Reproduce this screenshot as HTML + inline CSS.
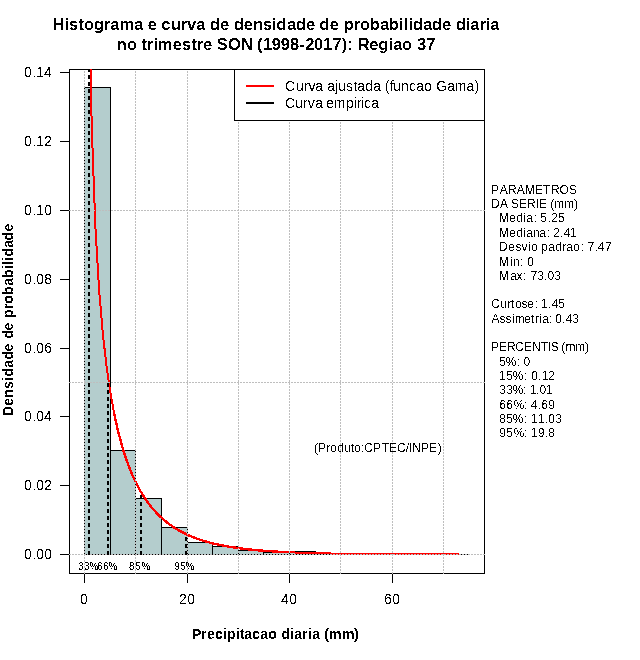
<!DOCTYPE html>
<html lang="pt"><head><meta charset="utf-8"><title>Histograma e curva de densidade de probabilidade diaria</title>
<style>html,body{margin:0;padding:0;background:#fff;}svg{display:block;}text{font-family:'Liberation Sans', Arial, Helvetica, sans-serif;fill:#000;}</style>
</head><body>
<svg width="640" height="660" viewBox="0 0 640 660">
<defs><clipPath id="pc"><rect x="69" y="69" width="416" height="505"/></clipPath><filter id="bw" x="0" y="0" width="640" height="660" filterUnits="userSpaceOnUse" color-interpolation-filters="sRGB"><feComponentTransfer><feFuncA type="discrete" tableValues="0 1"/></feComponentTransfer></filter></defs>
<rect x="0" y="0" width="640" height="660" fill="#fff"/>
<g shape-rendering="crispEdges" stroke="#000" stroke-width="1" fill="none">
<rect x="69.5" y="69.5" width="415" height="504"/>
<line x1="60" y1="554.5" x2="69" y2="554.5"/>
<line x1="60" y1="485.5" x2="69" y2="485.5"/>
<line x1="60" y1="416.5" x2="69" y2="416.5"/>
<line x1="60" y1="348.5" x2="69" y2="348.5"/>
<line x1="60" y1="279.5" x2="69" y2="279.5"/>
<line x1="60" y1="210.5" x2="69" y2="210.5"/>
<line x1="60" y1="141.5" x2="69" y2="141.5"/>
<line x1="60" y1="72.5" x2="69" y2="72.5"/>
<line x1="84.5" y1="574" x2="84.5" y2="583"/>
<line x1="187.5" y1="574" x2="187.5" y2="583"/>
<line x1="289.5" y1="574" x2="289.5" y2="583"/>
<line x1="392.5" y1="574" x2="392.5" y2="583"/>
</g>
<g shape-rendering="crispEdges" clip-path="url(#pc)">
<rect x="84.5" y="87.5" width="26" height="467" fill="#B4CDCD" stroke="#000" stroke-width="1"/>
<rect x="110.5" y="450.5" width="25" height="104" fill="#B4CDCD" stroke="#000" stroke-width="1"/>
<rect x="135.5" y="498.5" width="26" height="56" fill="#B4CDCD" stroke="#000" stroke-width="1"/>
<rect x="161.5" y="527.5" width="26" height="27" fill="#B4CDCD" stroke="#000" stroke-width="1"/>
<rect x="187.5" y="542.5" width="25" height="12" fill="#B4CDCD" stroke="#000" stroke-width="1"/>
<rect x="212.5" y="546.5" width="26" height="8" fill="#B4CDCD" stroke="#000" stroke-width="1"/>
<rect x="238.5" y="550.5" width="25" height="4" fill="#B4CDCD" stroke="#000" stroke-width="1"/>
<rect x="263.5" y="552.5" width="26" height="2" fill="#B4CDCD" stroke="#000" stroke-width="1"/>
<rect x="289.5" y="551.5" width="26" height="3" fill="#B4CDCD" stroke="#000" stroke-width="1"/>
<rect x="315.5" y="554.5" width="25" height="0" fill="#B4CDCD" stroke="#000" stroke-width="1"/>
<rect x="340.5" y="553.5" width="26" height="1" fill="#B4CDCD" stroke="#000" stroke-width="1"/>
<rect x="366.5" y="554.5" width="26" height="0" fill="#B4CDCD" stroke="#000" stroke-width="1"/>
<rect x="392.5" y="554.5" width="25" height="0" fill="#B4CDCD" stroke="#000" stroke-width="1"/>
<rect x="417.5" y="554.5" width="26" height="0" fill="#B4CDCD" stroke="#000" stroke-width="1"/>
<rect x="443.5" y="554.5" width="25" height="0" fill="#B4CDCD" stroke="#000" stroke-width="1"/>
<line x1="84" y1="554.5" x2="469" y2="554.5" stroke="#000" stroke-width="1"/>
</g>
<g clip-path="url(#pc)" shape-rendering="crispEdges">
<path d="M87.93 -99.22 L91.67 124.70 L95.42 227.65 L99.16 290.67 L102.91 334.47 L106.65 367.17 L110.40 392.72 L114.14 413.32 L117.89 430.30" fill="none" stroke="#FF0000" stroke-width="2" stroke-linejoin="round"/>
<path d="M114.14 413.32 L117.89 430.30 L121.63 444.56 L125.38 456.68 L129.12 467.10 L132.87 476.13 L136.62 484.02 L140.36 490.95 L144.11 497.07 L147.85 502.49 L151.60 507.32 L155.34 511.63 L159.09 515.50 L162.83 518.97 L166.58 522.09 L170.32 524.91 L174.07 527.45 L177.82 529.76 L181.56 531.85 L185.31 533.74 L189.05 535.47 L192.80 537.03 L196.54 538.46 L200.29 539.77 L204.03 540.96 L207.78 542.05 L211.52 543.04 L215.27 543.95 L219.01 544.78 L222.76 545.54 L226.51 546.24 L230.25 546.89 L234.00 547.47 L237.74 548.02 L241.49 548.51 L245.23 548.97 L248.98 549.39 L252.72 549.78 L256.47 550.13 L260.21 550.46 L263.96 550.76 L267.71 551.04 L271.45 551.29 L275.20 551.53 L278.94 551.75 L282.69 551.95 L286.43 552.13 L290.18 552.30" fill="none" stroke="#FF0000" stroke-width="2.4" stroke-linejoin="round"/>
<path d="M286.43 552.13 L290.18 552.30 L293.92 552.46 L297.67 552.61 L301.41 552.74 L305.16 552.87 L308.90 552.98 L312.65 553.09 L316.40 553.18 L320.14 553.28 L323.89 553.36 L327.63 553.44 L331.38 553.51 L335.12 553.57 L338.87 553.64 L342.61 553.69 L346.36 553.74 L350.10 553.79 L353.85 553.84 L357.60 553.88 L361.34 553.92 L365.09 553.95 L368.83 553.99 L372.58 554.02 L376.32 554.05 L380.07 554.07 L383.81 554.10 L387.56 554.12 L391.30 554.14 L395.05 554.16 L398.79 554.18 L402.54 554.19 L406.29 554.21 L410.03 554.22 L413.78 554.24 L417.52 554.25 L421.27 554.26 L425.01 554.27 L428.76 554.28 L432.50 554.29 L436.25 554.30 L439.99 554.31 L443.74 554.31 L447.49 554.32 L451.23 554.33 L454.98 554.33 L458.72 554.34" fill="none" stroke="#FF0000" stroke-width="2" stroke-linejoin="round"/>
</g>
<g shape-rendering="crispEdges" stroke="#BEBEBE" stroke-width="1" stroke-dasharray="2 1" fill="none">
<line x1="84.5" y1="574" x2="84.5" y2="70"/>
<line x1="135.5" y1="574" x2="135.5" y2="70"/>
<line x1="187.5" y1="574" x2="187.5" y2="70"/>
<line x1="238.5" y1="574" x2="238.5" y2="70"/>
<line x1="289.5" y1="574" x2="289.5" y2="70"/>
<line x1="340.5" y1="574" x2="340.5" y2="70"/>
<line x1="392.5" y1="574" x2="392.5" y2="70"/>
<line x1="443.5" y1="574" x2="443.5" y2="70"/>
<line x1="69" y1="554.5" x2="485" y2="554.5"/>
<line x1="69" y1="382.5" x2="485" y2="382.5"/>
<line x1="69" y1="210.5" x2="485" y2="210.5"/>
</g>
<g clip-path="url(#pc)" shape-rendering="crispEdges">
<line x1="89" y1="555" x2="89" y2="60.0" stroke="#000" stroke-width="2" stroke-dasharray="4 3"/>
<line x1="108" y1="555" x2="108" y2="382.5" stroke="#000" stroke-width="2" stroke-dasharray="4 3"/>
<line x1="141" y1="555" x2="141" y2="494.5" stroke="#000" stroke-width="2" stroke-dasharray="4 3"/>
<line x1="186" y1="555" x2="186" y2="536.5" stroke="#000" stroke-width="2" stroke-dasharray="4 3"/>
</g>
<g shape-rendering="crispEdges">
<rect x="234.5" y="69.5" width="250" height="51" fill="#fff" stroke="#000" stroke-width="1"/>
<line x1="246" y1="86" x2="274" y2="86" stroke="#FF0000" stroke-width="2"/>
<line x1="246" y1="103" x2="274" y2="103" stroke="#000" stroke-width="2"/>
</g>
<g filter="url(#bw)">
<text x="52.5 64.75 69 78.5 84 94 103.75 110.25 119.5 134 143.25 147.75 157 161.25 171 180.75 187 196.25 205.5 210 220 229.25 234 243.75 253 263 271.75 276.25 287 296 306 315 319.25 329.75 338.75 343.75 353.75 360 369.75 380 388.75 398.75 403.75 408.75 413 423 432 442 451.25 456 465.75 470.25 479.75 485.75 490.25" y="30" font-size="16.5" font-weight="bold">Histograma e curva de densidade de probabilidade diaria</text>
<text x="116.75 127 137 141.5 146.75 153.75 157.75 172.75 182 191.5 196.75 203 212.25 216.75 228 241 252.75 257 263 271.75 280.75 290 299.5 305.25 314 323 332.5 341.75 347.25 352.75 357.75 369.25 378.25 388.75 393.25 402 412.5 417 426.25" y="50" font-size="16.5" font-weight="bold">no trimestre SON (1998-2017): Regiao 37</text>
<text x="285 296 304 308.5 315.25 323.25 327.25 335 338.25 346 353.75 357.25 365.25 373.25 381 384.75 389.75 393.25 401 409 416.25 424.25 432.25 436.25 447.25 454.75 466.5 474.5" y="91" font-size="14">Curva ajustada (funcao Gama)</text>
<text x="285 295.25 303 307.75 315.25 322.5 326.25 333.75 346 354 357 361 364 371.25" y="108" font-size="14">Curva empirica</text>
<text x="192 201 207 215 223 227 236 240 244.25 252.25 260.25 268.25 277.5 281.5 290 294.25 302 308 312.25 320.25 324.25 329 342 354" y="639" font-size="14" font-weight="bold">Precipitacao diaria (mm)</text>
<text x="314 318 326.25 330.25 337.25 344.25 351 354.25 361 364.25 373 381.75 389 397 405.75 408.75 412.25 421 429 437.75" y="452" font-size="12">(Produto:CPTEC/INPE)</text>
<text x="80" y="604" font-size="14">0</text>
<text x="179 187.25" y="604" font-size="14">20</text>
<text x="281 289.25" y="604" font-size="14">40</text>
<text x="384 392.25" y="604" font-size="14">60</text>
<text x="78.25 84 89.5" y="570" font-size="10">33%</text>
<text x="97.25 103.25 108.5" y="570" font-size="10">66%</text>
<text x="129 135.25 141.5" y="570" font-size="10">85%</text>
<text x="174.25 180.25 185.5" y="570" font-size="10">95%</text>
<text x="491 499.75 508 516.75 525 535 542.75 551 559.5 569" y="194" font-size="12">PARAMETROS</text>
<text x="491 500 508 511 519 527 535.75 539 547 550.25 554.25 564.25 574" y="208" font-size="12">DA SERIE (mm)</text>
<text x="499 509.25 516.25 523.25 526.25 533.75 537 540.25 547.5 551 558" y="222" font-size="12">Media: 5.25</text>
<text x="499 509.25 516.25 523.25 526.25 533.25 539.25 546.75 550 553.25 560.25 563.75 570" y="237" font-size="12">Mediana: 2.41</text>
<text x="499 508.25 515.5 521.5 528.25 531 537.75 541.25 548.25 555.25 562.25 566.25 573.25 580.75 584 587.5 594.5 597.75 605" y="251" font-size="12">Desvio padrao: 7.47</text>
<text x="499 510.25 513.25 519.75 523.5 527.25" y="266" font-size="12">Min: 0</text>
<text x="499 510.25 516.5 523 526.5 530.5 537.25 544 547.5 554.25" y="280" font-size="12">Max: 73.03</text>
<text x="491.25 500.25 507.25 511 515 521.5 527.25 534.75 538 541 548 551.75 558.25" y="308" font-size="12">Curtose: 1.45</text>
<text x="491.5 499.5 505.5 512.25 514.75 524.25 531 535 539.25 542.25 548.75 552 555.25 562.25 565.75 572.25" y="323" font-size="12">Assimetria: 0.43</text>
<text x="491 499 507 515.25 524 532 540.75 547.75 550.75 558.5 561.25 565.5 575.25 585" y="351" font-size="12">PERCENTIS (mm)</text>
<text x="499.25 505.75 516.75 520.25 523.5" y="366" font-size="12">5%: 0</text>
<text x="499 506.25 512.75 524 527.5 531.25 538 542 548.25" y="380" font-size="12">15%: 0.12</text>
<text x="499.25 506.25 512.75 523 526.5 530 536.25 539.5 546" y="394" font-size="12">33%: 1.01</text>
<text x="499.25 506.25 513.5 524 527.75 530.75 538 541.25 548.25" y="409" font-size="12">66%: 4.69</text>
<text x="499.25 506.25 512.75 524 527.5 531 538 544.75 548.25 555.25" y="423" font-size="12">85%: 11.03</text>
<text x="499.25 506.25 513.5 524 527.75 531 538 545 548.25" y="437" font-size="12">95%: 19.8</text>
<text x="24 32.25 36.25 44.25" y="559" font-size="14">0.00</text>
<text x="24 32.25 36.25 44.25" y="490" font-size="14">0.02</text>
<text x="24 32.25 36.25 44" y="421" font-size="14">0.04</text>
<text x="24 32.25 36.25 44.25" y="353" font-size="14">0.06</text>
<text x="24 32.25 36.25 44.25" y="284" font-size="14">0.08</text>
<text x="24 32.25 36.25 44.25" y="215" font-size="14">0.10</text>
<text x="24 32.25 36.25 44.25" y="146" font-size="14">0.12</text>
<text x="24 32.25 36.25 44" y="77" font-size="14">0.14</text>
<text transform="translate(13,416) rotate(-90)" x="0 10.25 18.25 27 35 39.5 48.25 56.5 64.5 73 77.5 85.5 93.75 98 107 112.25 121 130.25 138 147 151 155 159.5 168.25 175.5 184.5" y="0" font-size="14" font-weight="bold">Densidade de probabilidade</text>
</g>
</svg></body></html>
